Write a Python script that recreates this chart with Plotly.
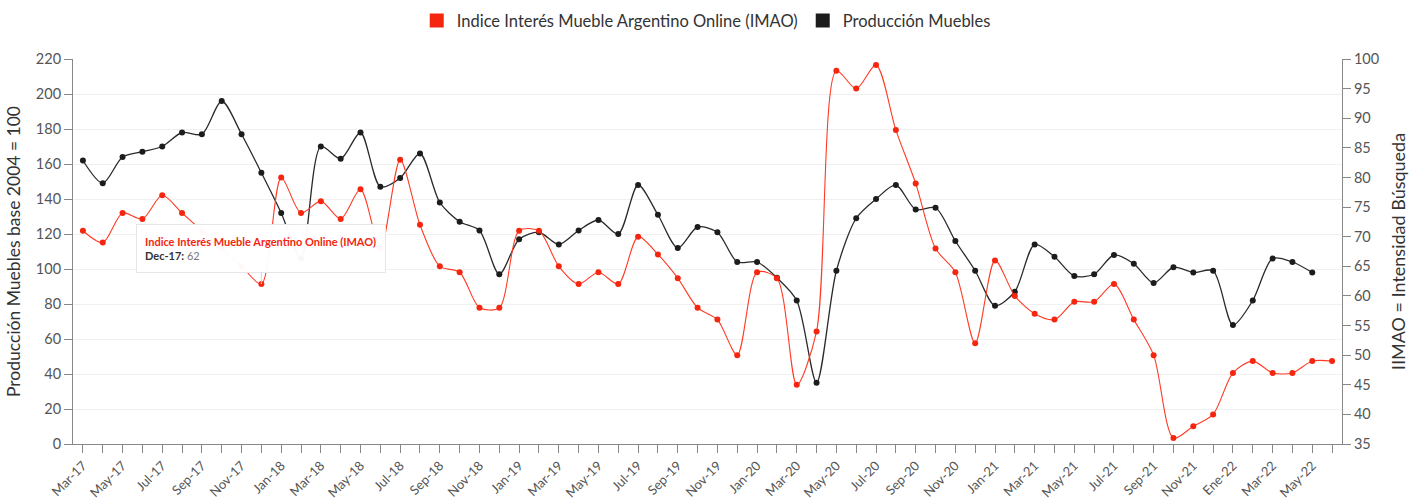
import plotly.graph_objects as go

categories = [
    "Mar-17", "Apr-17", "May-17", "Jun-17", "Jul-17", "Aug-17", "Sep-17", "Oct-17", "Nov-17", "Dec-17",
    "Jan-18", "Feb-18", "Mar-18", "Apr-18", "May-18", "Jun-18", "Jul-18", "Aug-18", "Sep-18", "Oct-18", "Nov-18", "Dec-18",
    "Jan-19", "Feb-19", "Mar-19", "Apr-19", "May-19", "Jun-19", "Jul-19", "Aug-19", "Sep-19", "Oct-19", "Nov-19", "Dec-19",
    "Jan-20", "Feb-20", "Mar-20", "Apr-20", "May-20", "Jun-20", "Jul-20", "Aug-20", "Sep-20", "Oct-20", "Nov-20", "Dec-20",
    "Jan-21", "Feb-21", "Mar-21", "Apr-21", "May-21", "Jun-21", "Jul-21", "Aug-21", "Sep-21", "Oct-21", "Nov-21", "Dec-21",
    "Ene-22", "Feb-22", "Mar-22", "Apr-22", "May-22", "Jun-22",
]

produccion = [
    162, 149, 164, 167, 170, 178, 177, 196, 177, 155,
    132, 106, 170, 163, 178, 147, 152, 166, 138, 127, 122, 97,
    117, 121, 114, 122, 128, 120, 148, 131, 112, 124, 121, 104,
    104, 95, 82, 35, 99, 129, 140, 148, 134, 135, 116, 99,
    79, 87, 114, 107, 96, 97, 108, 103, 92, 101, 98, 99,
    68, 82, 106, 104, 98, None,
]

imao = [
    71, 69, 74, 73, 77, 74, 71, 68, 65, 62,
    80, 74, 76, 73, 78, 68, 83, 72, 65, 64, 58, 58,
    71, 71, 65, 62, 64, 62, 70, 67, 63, 58, 56, 50,
    64, 63, 45, 54, 98, 95, 99, 88, 79, 68, 64, 52,
    66, 60, 57, 56, 59, 59, 62, 56, 50, 36, 38, 40,
    47, 49, 47, 47, 49, 49,
]

tick_text = [c if i % 2 == 0 and i < len(categories) - 1 else "" for i, c in enumerate(categories)]

RED = "#f5260f"
BLACK = "#1c1c1c"
FONT = "Lato"

fig = go.Figure()

fig.add_trace(go.Scatter(
    x=categories, y=produccion, name="Producción Muebles", mode="lines+markers",
    line=dict(color="#2a2a2a", width=1.3, shape="spline", smoothing=0.8),
    marker=dict(color=BLACK, size=6), showlegend=False, connectgaps=False,
))
fig.add_trace(go.Scatter(
    x=categories, y=imao, name="Indice Interés Mueble Argentino Online (IMAO)", mode="lines+markers",
    line=dict(color="#ff3a24", width=1.1, shape="spline", smoothing=0.8),
    marker=dict(color=RED, size=6), yaxis="y2", showlegend=False,
))

# legend entries (square symbols)
fig.add_trace(go.Scatter(
    x=[None], y=[None], mode="markers", name="Indice Interés Mueble Argentino Online (IMAO)",
    marker=dict(symbol="square", size=14, color=RED), showlegend=True,
))
fig.add_trace(go.Scatter(
    x=[None], y=[None], mode="markers", name="Producción Muebles",
    marker=dict(symbol="square", size=14, color=BLACK), showlegend=True,
))

# tooltip shown in the reference
fig.add_annotation(
    x="Dec-17", y=62, xref="x", yref="y2",
    text=("<b><span style='color:%s'>Indice Interés Mueble Argentino Online (IMAO)</span></b><br>"
          "<b>Dec-17:</b> <span style='color:#777'>62</span>") % RED,
    showarrow=True, arrowhead=0, arrowcolor="#d5d5d5", arrowwidth=1,
    ax=0, ay=-36, align="left", valign="middle",
    width=232, height=31, borderpad=8,
    bgcolor="rgba(255,255,255,0.97)", bordercolor="#e6e6e6", borderwidth=1,
    font=dict(family=FONT, size=11, color="#333"),
)

fig.update_layout(
    width=1428, height=501,
    margin=dict(l=73, r=86, t=59, b=57, autoexpand=False),
    paper_bgcolor="white", plot_bgcolor="white",
    font=dict(family=FONT, size=13, color="#555"),
    legend=dict(orientation="h", x=0.499, xanchor="center", y=1.099, yanchor="middle",
                font=dict(family=FONT, size=16.5, color="#333"), itemwidth=30,
                traceorder="normal"),
    xaxis=dict(
        type="category", categoryorder="array", categoryarray=categories,
        range=[-0.5, len(categories) - 0.5],
        tickmode="array", tickvals=categories, ticktext=tick_text, tickangle=-45,
        ticks="outside", ticklen=8, tickcolor="#888", showline=True, linecolor="#888",
        linewidth=1, showgrid=False, tickfont=dict(size=13, color="#555"),
    ),
    yaxis=dict(
        range=[0, 220], dtick=20, tick0=0, showline=True, linecolor="#888", linewidth=1,
        ticks="outside", ticklen=8, tickcolor="#888", gridcolor="#f0f0f0", zeroline=False,
        title=dict(text="Producción Muebles base 2004 = 100", font=dict(size=17.5, color="#333"), standoff=10),
        tickfont=dict(size=14.5, color="#555"),
    ),
    yaxis2=dict(
        range=[35, 100], dtick=5, tick0=35, overlaying="y", side="right",
        showline=True, linecolor="#888", linewidth=1, ticks="outside", ticklen=8, tickcolor="#888",
        showgrid=False, zeroline=False,
        title=dict(text="IIMAO = Intensidad Búsqueda", font=dict(size=18, color="#333"), standoff=14),
        tickfont=dict(size=14.5, color="#555"),
    ),
)

fig.write_html("out.html", config={"displayModeBar": False},
               post_script="document.body.style.margin='0';document.body.style.overflow='hidden';")
